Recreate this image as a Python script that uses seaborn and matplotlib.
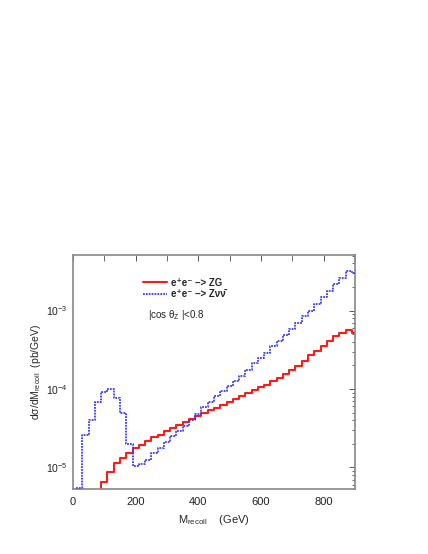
import numpy as np
import pandas as pd
import matplotlib
matplotlib.use("Agg")
import matplotlib.pyplot as plt
import seaborn as sns
from matplotlib.ticker import LogLocator, MultipleLocator

# bin lower edges (GeV), 20 GeV bins
edges_zg = [70, 90, 110, 130, 150, 170, 190, 210, 230, 250, 270, 290, 310, 330,
            350, 370, 390, 410, 430, 450, 470, 490, 510, 530, 550, 570, 590, 610,
            630, 650, 670, 690, 710, 730, 750, 770, 790, 810, 830, 850, 870, 890, 900]
sigma_zg = [1.0e-6, 6.50e-6, 8.84e-6, 1.125e-5, 1.31e-5, 1.545e-5, 1.76e-5, 1.95e-5,
            2.15e-5, 2.41e-5, 2.62e-5, 2.88e-5, 3.16e-5, 3.46e-5, 3.78e-5, 4.16e-5,
            4.54e-5, 4.95e-5, 5.34e-5, 5.73e-5, 6.22e-5, 6.79e-5, 7.41e-5, 8.09e-5,
            8.84e-5, 9.57e-5, 1.045e-4, 1.134e-4, 1.25e-4, 1.38e-4, 1.57e-4, 1.76e-4,
            1.98e-4, 2.29e-4, 2.70e-4, 3.08e-4, 3.49e-4, 4.04e-4, 4.68e-4, 5.17e-4,
            5.58e-4, 5.17e-4, 5.17e-4]

edges_znn = [8, 30, 50, 70, 90, 110, 130, 150, 170, 190, 210, 230, 250, 270, 290,
             310, 330, 350, 370, 390, 410, 430, 450, 470, 490, 510, 530, 550, 570,
             590, 610, 630, 650, 670, 690, 710, 730, 750, 770, 790, 810, 830, 850,
             870, 890, 900]
sigma_znn = [5.45e-6, 2.56e-5, 3.98e-5, 6.75e-5, 9.05e-5, 1.0e-4, 7.68e-5, 4.95e-5,
             2.01e-5, 1.055e-5, 1.10e-5, 1.257e-5, 1.53e-5, 1.78e-5, 2.10e-5, 2.50e-5,
             2.93e-5, 3.39e-5, 4.04e-5, 4.85e-5, 5.81e-5, 6.85e-5, 8.05e-5, 9.37e-5,
             1.095e-4, 1.26e-4, 1.45e-4, 1.76e-4, 2.14e-4, 2.48e-4, 2.87e-4, 3.49e-4,
             4.04e-4, 4.82e-4, 5.81e-4, 6.93e-4, 8.41e-4, 1.0e-3, 1.21e-3, 1.47e-3,
             1.79e-3, 2.18e-3, 2.59e-3, 3.15e-3, 3.03e-3, 3.03e-3]

label_zg = "e\u207ae\u207b \u2013> ZG"
label_znn = "e\u207ae\u207b \u2013> Z\u03bd\u03bd\u0304"

sns.set_style("white")
plt.rcParams["font.family"] = ["Liberation Sans", "DejaVu Sans"]
plt.rcParams["mathtext.fontset"] = "custom"
plt.rcParams["mathtext.rm"] = "Liberation Sans"
plt.rcParams["mathtext.it"] = "Liberation Sans:italic"
plt.rcParams["mathtext.default"] = "regular"

df_zg = pd.DataFrame({"m": edges_zg, "s": sigma_zg})
df_znn = pd.DataFrame({"m": edges_znn, "s": sigma_znn})

fig = plt.figure(figsize=(4.28, 5.54), dpi=100)
ax = fig.add_axes([0.1706, 0.1173, 0.6588, 0.4224])

sns.lineplot(data=df_zg, x="m", y="s", ax=ax, color="#ff1a1a", lw=1.5,
             drawstyle="steps-post", label=label_zg, estimator=None, sort=False)
sns.lineplot(data=df_znn, x="m", y="s", ax=ax, color="#3a3aff", lw=1.3,
             linestyle=(0, (1, 0.6)), drawstyle="steps-post", label=label_znn,
             estimator=None, sort=False, zorder=5)

ax.set_yscale("log")
ax.set_xlim(0, 900)
ax.set_ylim(5.3e-6, 5.1e-3)

ax.xaxis.set_major_locator(MultipleLocator(200))
ax.xaxis.set_minor_locator(MultipleLocator(100))
ax.yaxis.set_major_locator(LogLocator(base=10))
ax.yaxis.set_minor_locator(LogLocator(base=10, subs=np.arange(2, 10)))
ax.tick_params(which="both", direction="in", top=True, right=True,
               color="#555555", labelsize=7.5, labelcolor="#222222")
ax.tick_params(which="major", length=4, width=0.7)
ax.tick_params(which="minor", length=2.5, width=0.6)
ax.tick_params(axis="x", which="minor", length=4)
ax.tick_params(axis="x", labelsize=8, pad=6)
ax.tick_params(axis="y", pad=4)
for sp in ax.spines.values():
    sp.set_color("#888888")
    sp.set_linewidth(1.2)

ax.set_xlabel(r"M$_{\mathregular{recoil}}$    (GeV)", fontsize=8, labelpad=4)
ax.set_ylabel(r"d$\sigma$/dM$_{\mathregular{recoil}}$  (pb/GeV)", fontsize=7.5,
              labelpad=2)

leg = ax.legend(loc="upper left", bbox_to_anchor=(0.218, 0.94), frameon=False,
                handlelength=2.4, handletextpad=0.5, labelspacing=0.12,
                prop={"size": 7, "weight": "bold",
                      "family": ["Liberation Sans", "DejaVu Sans"]})

ax.text(0.267, 0.73, r"|cos $\theta_{Z}$ |<0.8", transform=ax.transAxes,
        fontsize=7, color="#222222")

fig.savefig("out.png", dpi=100)
